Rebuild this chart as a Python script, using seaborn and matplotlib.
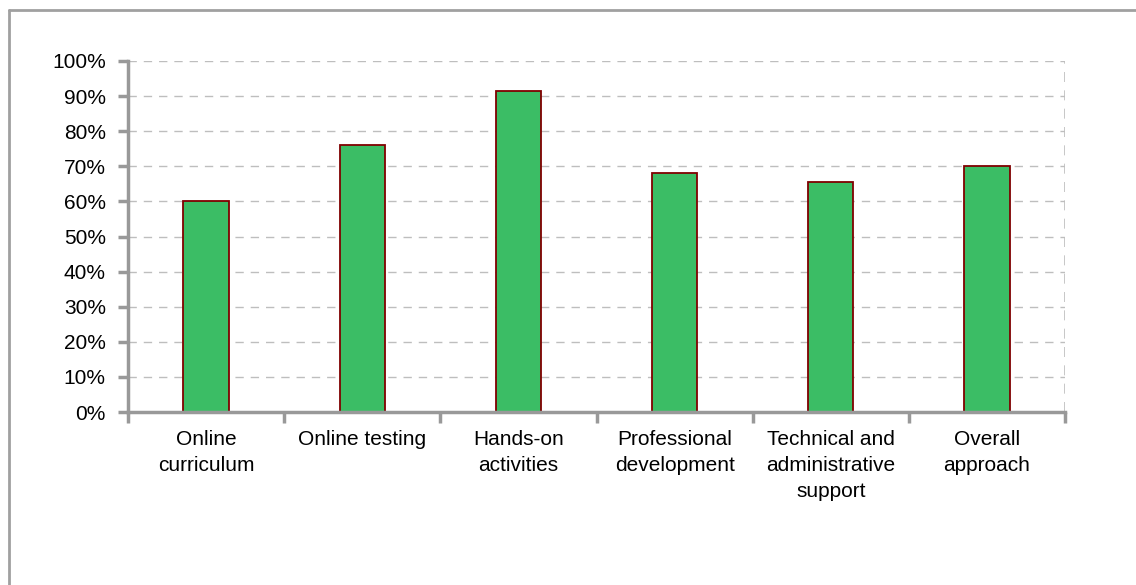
import matplotlib
matplotlib.use("Agg")
import matplotlib.pyplot as plt
import matplotlib.ticker as mticker
from matplotlib.lines import Line2D
import seaborn as sns
import pandas as pd
import numpy as np

categories = ["Online\ncurriculum", "Online testing", "Hands-on\nactivities",
              "Professional\ndevelopment", "Technical and\nadministrative\nsupport",
              "Overall\napproach"]
values = [0.60, 0.76, 0.915, 0.682, 0.654, 0.70]
y_ticks = [0.0, 0.1, 0.2, 0.3, 0.4, 0.5, 0.6, 0.7, 0.8, 0.9, 1.0]

sns.set_theme(style="white")
plt.rcParams['font.family'] = ['Liberation Sans', 'DejaVu Sans']
fs = 15

df = pd.DataFrame({'category': categories, 'value': values})

fig = plt.figure(figsize=(11.36, 5.85), dpi=100)
ax = fig.add_axes([128 / 1136, 1 - 412 / 585, (1065 - 128) / 1136, (412 - 61) / 585])

sns.barplot(data=df, x='category', y='value', color='#3BBD65', edgecolor='#7F0000',
            linewidth=1.3, width=0.29, saturation=1, ax=ax)

grid_col = '#BEBEBE'
spine_col = '#999999'
ax.set_ylim(0, 1.0)
ax.set_xlim(-0.5, len(categories) - 0.5)
ax.set_yticks(y_ticks)
ax.yaxis.set_major_formatter(mticker.PercentFormatter(1.0, decimals=0))
ax.yaxis.grid(True, linestyle=(0, (6, 5)), color=grid_col, linewidth=1)
ax.set_axisbelow(True)
ax.axvline(len(categories) - 0.5, linestyle=(0, (6, 5)), color=grid_col, linewidth=1.2, zorder=0)

for s in ['top', 'right']:
    ax.spines[s].set_visible(False)
for s in ['left', 'bottom']:
    ax.spines[s].set_color(spine_col)
    ax.spines[s].set_linewidth(2.5)

ax.set_xlabel('')
ax.set_ylabel('')
ax.tick_params(axis='y', which='major', left=True, length=7, width=2.5, color=spine_col,
               pad=9, labelcolor='black', labelsize=fs)
ax.set_xticks(np.arange(len(categories) + 1) - 0.5, minor=True)
ax.tick_params(axis='x', which='minor', bottom=True, length=8, width=2.5, color=spine_col)
ax.tick_params(axis='x', which='major', bottom=False, length=0, pad=13,
               labelcolor='black', labelsize=fs)
for lbl in ax.get_xticklabels():
    lbl.set_linespacing(1.48)

# outer frame (top and left edges visible)
fig.add_artist(Line2D([9 / 1136, 9 / 1136], [0, 1 - 10 / 585], transform=fig.transFigure,
                      color='#A0A0A0', linewidth=2))
fig.add_artist(Line2D([9 / 1136, 1], [1 - 10 / 585, 1 - 10 / 585], transform=fig.transFigure,
                      color='#A0A0A0', linewidth=2))

fig.savefig('out.png', dpi=100, facecolor='white')
